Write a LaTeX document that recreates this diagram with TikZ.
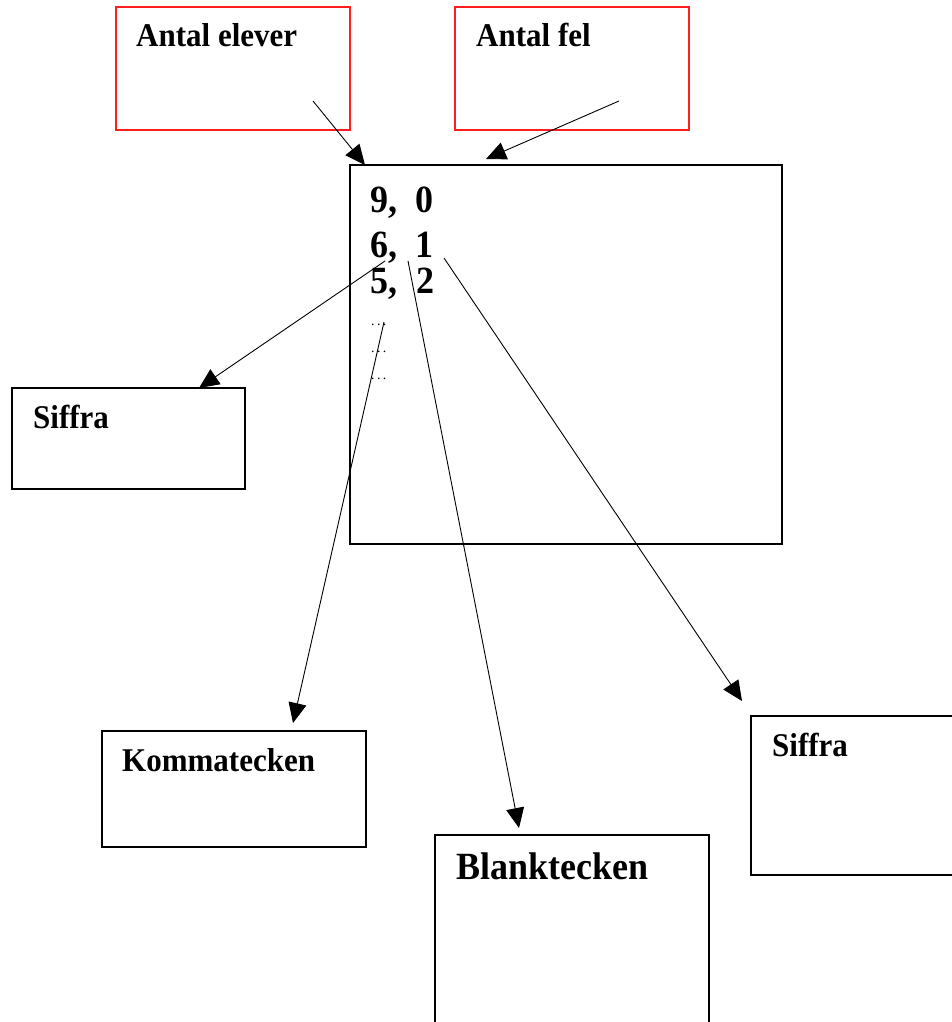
\documentclass[tikz,border=0pt]{standalone}
\usepackage{fontspec}
\setmainfont{Liberation Serif}
\usetikzlibrary{arrows.meta}
\definecolor{boxred}{RGB}{255,30,30}
\newcommand{\tallr}[1]{\scalebox{1}[1.07]{#1}}
\begin{document}
\begin{tikzpicture}[x=1pt,y=-1pt,
  redbox/.style={draw=boxred,line width=1.3pt},
  blackbox/.style={draw=black,line width=1.3pt},
  lbl/.style={anchor=base west,inner sep=0pt,font=\fontsize{31}{36}\selectfont\bfseries},
  biglbl/.style={anchor=base west,inner sep=0pt,font=\fontsize{36}{44}\selectfont\bfseries},
  dotlbl/.style={anchor=base west,inner sep=0pt,font=\fontsize{14}{16}\selectfont},
  conn/.style={draw=black,line width=0.9pt,-{Triangle[length=20pt,width=18pt]}}]
\useasboundingbox (0,0) rectangle (951,1022);
% boxes
\draw[redbox] (116,7) rectangle (350,130);
\draw[redbox] (455,7) rectangle (689,130);
\draw[blackbox] (350,165) rectangle (782,544);
\draw[blackbox] (12,388) rectangle (245,489);
\draw[blackbox] (102,731) rectangle (366,847);
\draw[blackbox] (435,835) rectangle (709,1040);
\draw[blackbox] (751,716) rectangle (970,875);
% labels
\node[lbl] (ae) at (136,47) {\tallr{Antal elever}};
\node[lbl] (af) at (476,47) {\tallr{Antal fel}};
\node[biglbl] (r1a) at (370,212) {\tallr{9,}};
\node[biglbl] (r1b) at (415,212) {\tallr{0}};
\node[biglbl] (r2a) at (370,257) {\tallr{6,}};
\node[biglbl] (r2b) at (415,257) {\tallr{1}};
\node[biglbl] (r3a) at (370,293) {\tallr{5,}};
\node[biglbl] (r3b) at (416,293) {\tallr{2}};
\node[dotlbl] (d1) at (371,325) {.\,.\,.};
\node[dotlbl] (d2) at (371,352) {.\,.\,.};
\node[dotlbl] (d3) at (371,379) {.\,.\,.};
\node[lbl] (s1) at (33,428) {\tallr{Siffra}};
\node[lbl] (km) at (122,771) {\tallr{Kommatecken}};
\node[biglbl] (bt) at (456,879) {\tallr{Blanktecken}};
\node[lbl] (s2) at (772,756) {\tallr{Siffra}};
% connector endpoints
\coordinate (a1s) at (313,101);
\coordinate (a1e) at (365,165);
\coordinate (a2s) at (619,101);
\coordinate (a2e) at (486,159);
\coordinate (b1s) at (385,261);
\coordinate (b1e) at (199,388);
\coordinate (b2s) at (384,322);
\coordinate (b2e) at (293,723);
\coordinate (b3s) at (408,261);
\coordinate (b3e) at (519,828);
\coordinate (b4s) at (444,258);
\coordinate (b4e) at (742,701);
\draw[conn] (a1s) -- (a1e);
\draw[conn] (a2s) -- (a2e);
\draw[conn] (b1s) -- (b1e);
\draw[conn] (b2s) -- (b2e);
\draw[conn] (b3s) -- (b3e);
\draw[conn] (b4s) -- (b4e);
\end{tikzpicture}
\end{document}
